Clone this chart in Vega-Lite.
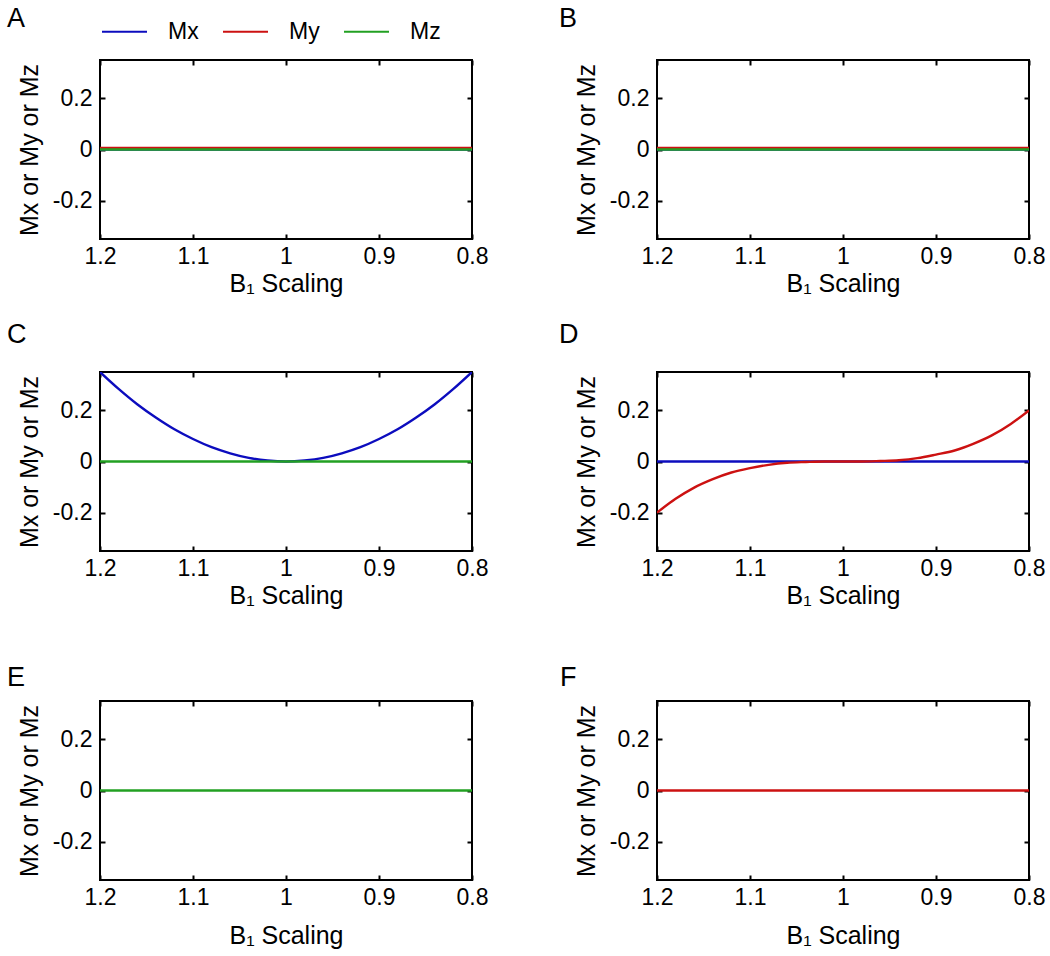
{
  "$schema": "https://vega.github.io/schema/vega-lite/v6.json",
  "autosize": {"type": "pad"},
  "padding": {"left": 6, "top": 4, "right": 5, "bottom": 5},
  "background": "white",
  "datasets": {
    "A": [
      {"b1": 1.2, "m": 0, "series": "Mx"}, {"b1": 0.8, "m": 0, "series": "Mx"},
      {"b1": 1.2, "m": 0.006, "series": "My"}, {"b1": 0.8, "m": 0.006, "series": "My"},
      {"b1": 1.2, "m": 0, "series": "Mz"}, {"b1": 0.8, "m": 0, "series": "Mz"}
    ],
    "B": [
      {"b1": 1.2, "m": 0, "series": "Mx"}, {"b1": 0.8, "m": 0, "series": "Mx"},
      {"b1": 1.2, "m": 0.006, "series": "My"}, {"b1": 0.8, "m": 0.006, "series": "My"},
      {"b1": 1.2, "m": 0, "series": "Mz"}, {"b1": 0.8, "m": 0, "series": "Mz"}
    ],
    "C": [
      {"b1": 1.2, "m": 0.35, "series": "Mx"}, {"b1": 1.18, "m": 0.284, "series": "Mx"},
      {"b1": 1.16, "m": 0.224, "series": "Mx"}, {"b1": 1.14, "m": 0.172, "series": "Mx"},
      {"b1": 1.12, "m": 0.126, "series": "Mx"}, {"b1": 1.1, "m": 0.088, "series": "Mx"},
      {"b1": 1.08, "m": 0.056, "series": "Mx"}, {"b1": 1.06, "m": 0.032, "series": "Mx"},
      {"b1": 1.04, "m": 0.014, "series": "Mx"}, {"b1": 1.02, "m": 0.004, "series": "Mx"},
      {"b1": 1.0, "m": 0.0, "series": "Mx"}, {"b1": 0.98, "m": 0.004, "series": "Mx"},
      {"b1": 0.96, "m": 0.014, "series": "Mx"}, {"b1": 0.94, "m": 0.032, "series": "Mx"},
      {"b1": 0.92, "m": 0.056, "series": "Mx"}, {"b1": 0.9, "m": 0.088, "series": "Mx"},
      {"b1": 0.88, "m": 0.126, "series": "Mx"}, {"b1": 0.86, "m": 0.172, "series": "Mx"},
      {"b1": 0.84, "m": 0.224, "series": "Mx"}, {"b1": 0.82, "m": 0.284, "series": "Mx"},
      {"b1": 0.8, "m": 0.35, "series": "Mx"},
      {"b1": 1.2, "m": 0, "series": "Mz"}, {"b1": 0.8, "m": 0, "series": "Mz"}
    ],
    "D": [
      {"b1": 1.2, "m": 0, "series": "Mx"}, {"b1": 0.8, "m": 0, "series": "Mx"},
      {"b1": 1.2, "m": -0.2, "series": "My"}, {"b1": 1.18, "m": -0.146, "series": "My"},
      {"b1": 1.16, "m": -0.102, "series": "My"}, {"b1": 1.14, "m": -0.069, "series": "My"},
      {"b1": 1.12, "m": -0.043, "series": "My"}, {"b1": 1.1, "m": -0.026, "series": "My"},
      {"b1": 1.08, "m": -0.013, "series": "My"}, {"b1": 1.06, "m": -0.005, "series": "My"},
      {"b1": 1.04, "m": -0.002, "series": "My"}, {"b1": 1.02, "m": 0.0, "series": "My"},
      {"b1": 1.0, "m": 0.0, "series": "My"}, {"b1": 0.98, "m": 0.0, "series": "My"},
      {"b1": 0.96, "m": 0.002, "series": "My"}, {"b1": 0.94, "m": 0.005, "series": "My"},
      {"b1": 0.92, "m": 0.013, "series": "My"}, {"b1": 0.9, "m": 0.027, "series": "My"},
      {"b1": 0.88, "m": 0.043, "series": "My"}, {"b1": 0.86, "m": 0.069, "series": "My"},
      {"b1": 0.84, "m": 0.102, "series": "My"}, {"b1": 0.82, "m": 0.146, "series": "My"},
      {"b1": 0.8, "m": 0.2, "series": "My"}
    ],
    "E": [
      {"b1": 1.2, "m": 0, "series": "Mz"}, {"b1": 0.8, "m": 0, "series": "Mz"}
    ],
    "F": [
      {"b1": 1.2, "m": 0, "series": "My"}, {"b1": 0.8, "m": 0, "series": "My"}
    ]
  },
  "bounds": "flush",
  "columns": 2,
  "spacing": {"row": 0, "column": 185},
  "concat": [
    {
      "width": 372, "height": 179,
      "title": {"text": "A", "anchor": "start", "frame": "group", "dx": -93, "dy": -5, "offset": 0, "baseline": "alphabetic"},
      "data": {"name": "A"},
      "layer": [
        {"mark": {"type": "line", "strokeWidth": 2.4, "clip": true, "interpolate": "monotone"},
         "encoding": {
           "x": {"field": "b1", "type": "quantitative", "scale": {"domain": [0.8, 1.2], "reverse": true, "nice": false, "zero": false}, "axis": {"orient": "bottom", "values": [1.2, 1.1, 1, 0.9, 0.8], "format": "~g", "title": "B₁ Scaling"}},
           "y": {"field": "m", "type": "quantitative", "scale": {"domain": [-0.35, 0.35], "nice": false, "zero": false}, "axis": {"orient": "left", "values": [-0.2, 0, 0.2], "labelExpr": "datum.value < 0 ? '-' + format(-datum.value, '~g') : format(datum.value, '~g')", "title": "Mx or My or Mz"}},
           "color": {"field": "series", "type": "nominal", "scale": {"domain": ["Mx", "My", "Mz"], "range": ["#0c0cbe", "#cc1111", "#22a022"]}, "legend": {"title": null, "orient": "none", "legendX": 1, "legendY": -52, "direction": "horizontal"}}
         }},
        {"mark": {"type": "line", "opacity": 0},
         "encoding": {
           "x": {"field": "b1", "type": "quantitative", "axis": {"orient": "top", "values": [1.2, 1.1, 1, 0.9, 0.8], "labels": false, "title": null}},
           "y": {"field": "m", "type": "quantitative", "axis": {"orient": "right", "values": [-0.2, 0, 0.2], "labels": false, "title": null}}
         }}
      ],
      "resolve": {"axis": {"x": "independent", "y": "independent"}}
    },
    {
      "width": 372, "height": 179,
      "title": {"text": "B", "anchor": "start", "frame": "group", "dx": -98, "dy": -5, "offset": 0, "baseline": "alphabetic"},
      "data": {"name": "B"},
      "layer": [
        {"mark": {"type": "line", "strokeWidth": 2.4, "clip": true, "interpolate": "monotone"},
         "encoding": {
           "x": {"field": "b1", "type": "quantitative", "scale": {"domain": [0.8, 1.2], "reverse": true, "nice": false, "zero": false}, "axis": {"orient": "bottom", "values": [1.2, 1.1, 1, 0.9, 0.8], "format": "~g", "title": "B₁ Scaling"}},
           "y": {"field": "m", "type": "quantitative", "scale": {"domain": [-0.35, 0.35], "nice": false, "zero": false}, "axis": {"orient": "left", "values": [-0.2, 0, 0.2], "labelExpr": "datum.value < 0 ? '-' + format(-datum.value, '~g') : format(datum.value, '~g')", "title": "Mx or My or Mz"}},
           "color": {"field": "series", "type": "nominal", "scale": {"domain": ["Mx", "My", "Mz"], "range": ["#0c0cbe", "#cc1111", "#22a022"]}, "legend": {"title": null, "orient": "none", "legendX": 1, "legendY": -52, "direction": "horizontal"}}
         }},
        {"mark": {"type": "line", "opacity": 0},
         "encoding": {
           "x": {"field": "b1", "type": "quantitative", "axis": {"orient": "top", "values": [1.2, 1.1, 1, 0.9, 0.8], "labels": false, "title": null}},
           "y": {"field": "m", "type": "quantitative", "axis": {"orient": "right", "values": [-0.2, 0, 0.2], "labels": false, "title": null}}
         }}
      ],
      "resolve": {"axis": {"x": "independent", "y": "independent"}}
    },
    {"width": 372, "height": 133, "data": {"values": []}, "mark": "point", "view": {"stroke": null}},
    {"width": 372, "height": 133, "data": {"values": []}, "mark": "point", "view": {"stroke": null}},
    {
      "width": 372, "height": 179,
      "title": {"text": "C", "anchor": "start", "frame": "group", "dx": -93, "dy": -1, "offset": 0, "baseline": "alphabetic"},
      "data": {"name": "C"},
      "layer": [
        {"mark": {"type": "line", "strokeWidth": 2.4, "clip": true, "interpolate": "monotone"},
         "encoding": {
           "x": {"field": "b1", "type": "quantitative", "scale": {"domain": [0.8, 1.2], "reverse": true, "nice": false, "zero": false}, "axis": {"orient": "bottom", "values": [1.2, 1.1, 1, 0.9, 0.8], "format": "~g", "title": "B₁ Scaling"}},
           "y": {"field": "m", "type": "quantitative", "scale": {"domain": [-0.35, 0.35], "nice": false, "zero": false}, "axis": {"orient": "left", "values": [-0.2, 0, 0.2], "labelExpr": "datum.value < 0 ? '-' + format(-datum.value, '~g') : format(datum.value, '~g')", "title": "Mx or My or Mz"}},
           "color": {"field": "series", "type": "nominal", "scale": {"domain": ["Mx", "My", "Mz"], "range": ["#0c0cbe", "#cc1111", "#22a022"]}, "legend": {"title": null, "orient": "none", "legendX": 1, "legendY": -52, "direction": "horizontal"}}
         }},
        {"mark": {"type": "line", "opacity": 0},
         "encoding": {
           "x": {"field": "b1", "type": "quantitative", "axis": {"orient": "top", "values": [1.2, 1.1, 1, 0.9, 0.8], "labels": false, "title": null}},
           "y": {"field": "m", "type": "quantitative", "axis": {"orient": "right", "values": [-0.2, 0, 0.2], "labels": false, "title": null}}
         }}
      ],
      "resolve": {"axis": {"x": "independent", "y": "independent"}}
    },
    {
      "width": 372, "height": 179,
      "title": {"text": "D", "anchor": "start", "frame": "group", "dx": -98, "dy": -1, "offset": 0, "baseline": "alphabetic"},
      "data": {"name": "D"},
      "layer": [
        {"mark": {"type": "line", "strokeWidth": 2.4, "clip": true, "interpolate": "monotone"},
         "encoding": {
           "x": {"field": "b1", "type": "quantitative", "scale": {"domain": [0.8, 1.2], "reverse": true, "nice": false, "zero": false}, "axis": {"orient": "bottom", "values": [1.2, 1.1, 1, 0.9, 0.8], "format": "~g", "title": "B₁ Scaling"}},
           "y": {"field": "m", "type": "quantitative", "scale": {"domain": [-0.35, 0.35], "nice": false, "zero": false}, "axis": {"orient": "left", "values": [-0.2, 0, 0.2], "labelExpr": "datum.value < 0 ? '-' + format(-datum.value, '~g') : format(datum.value, '~g')", "title": "Mx or My or Mz"}},
           "color": {"field": "series", "type": "nominal", "scale": {"domain": ["Mx", "My", "Mz"], "range": ["#0c0cbe", "#cc1111", "#22a022"]}, "legend": {"title": null, "orient": "none", "legendX": 1, "legendY": -52, "direction": "horizontal"}}
         }},
        {"mark": {"type": "line", "opacity": 0},
         "encoding": {
           "x": {"field": "b1", "type": "quantitative", "axis": {"orient": "top", "values": [1.2, 1.1, 1, 0.9, 0.8], "labels": false, "title": null}},
           "y": {"field": "m", "type": "quantitative", "axis": {"orient": "right", "values": [-0.2, 0, 0.2], "labels": false, "title": null}}
         }}
      ],
      "resolve": {"axis": {"x": "independent", "y": "independent"}}
    },
    {"width": 372, "height": 150, "data": {"values": []}, "mark": "point", "view": {"stroke": null}},
    {"width": 372, "height": 150, "data": {"values": []}, "mark": "point", "view": {"stroke": null}},
    {
      "width": 372, "height": 179,
      "title": {"text": "E", "anchor": "start", "frame": "group", "dx": -93, "dy": 13, "offset": 0, "baseline": "alphabetic"},
      "data": {"name": "E"},
      "layer": [
        {"mark": {"type": "line", "strokeWidth": 2.4, "clip": true, "interpolate": "monotone"},
         "encoding": {
           "x": {"field": "b1", "type": "quantitative", "scale": {"domain": [0.8, 1.2], "reverse": true, "nice": false, "zero": false}, "axis": {"orient": "bottom", "values": [1.2, 1.1, 1, 0.9, 0.8], "format": "~g", "title": "B₁ Scaling", "titlePadding": 14}},
           "y": {"field": "m", "type": "quantitative", "scale": {"domain": [-0.35, 0.35], "nice": false, "zero": false}, "axis": {"orient": "left", "values": [-0.2, 0, 0.2], "labelExpr": "datum.value < 0 ? '-' + format(-datum.value, '~g') : format(datum.value, '~g')", "title": "Mx or My or Mz"}},
           "color": {"field": "series", "type": "nominal", "scale": {"domain": ["Mx", "My", "Mz"], "range": ["#0c0cbe", "#cc1111", "#22a022"]}, "legend": {"title": null, "orient": "none", "legendX": 1, "legendY": -52, "direction": "horizontal"}}
         }},
        {"mark": {"type": "line", "opacity": 0},
         "encoding": {
           "x": {"field": "b1", "type": "quantitative", "axis": {"orient": "top", "values": [1.2, 1.1, 1, 0.9, 0.8], "labels": false, "title": null}},
           "y": {"field": "m", "type": "quantitative", "axis": {"orient": "right", "values": [-0.2, 0, 0.2], "labels": false, "title": null}}
         }}
      ],
      "resolve": {"axis": {"x": "independent", "y": "independent"}}
    },
    {
      "width": 372, "height": 179,
      "title": {"text": "F", "anchor": "start", "frame": "group", "dx": -97, "dy": 13, "offset": 0, "baseline": "alphabetic"},
      "data": {"name": "F"},
      "layer": [
        {"mark": {"type": "line", "strokeWidth": 2.4, "clip": true, "interpolate": "monotone"},
         "encoding": {
           "x": {"field": "b1", "type": "quantitative", "scale": {"domain": [0.8, 1.2], "reverse": true, "nice": false, "zero": false}, "axis": {"orient": "bottom", "values": [1.2, 1.1, 1, 0.9, 0.8], "format": "~g", "title": "B₁ Scaling", "titlePadding": 14}},
           "y": {"field": "m", "type": "quantitative", "scale": {"domain": [-0.35, 0.35], "nice": false, "zero": false}, "axis": {"orient": "left", "values": [-0.2, 0, 0.2], "labelExpr": "datum.value < 0 ? '-' + format(-datum.value, '~g') : format(datum.value, '~g')", "title": "Mx or My or Mz"}},
           "color": {"field": "series", "type": "nominal", "scale": {"domain": ["Mx", "My", "Mz"], "range": ["#0c0cbe", "#cc1111", "#22a022"]}, "legend": {"title": null, "orient": "none", "legendX": 1, "legendY": -52, "direction": "horizontal"}}
         }},
        {"mark": {"type": "line", "opacity": 0},
         "encoding": {
           "x": {"field": "b1", "type": "quantitative", "axis": {"orient": "top", "values": [1.2, 1.1, 1, 0.9, 0.8], "labels": false, "title": null}},
           "y": {"field": "m", "type": "quantitative", "axis": {"orient": "right", "values": [-0.2, 0, 0.2], "labels": false, "title": null}}
         }}
      ],
      "resolve": {"axis": {"x": "independent", "y": "independent"}}
    }
  ],
  "config": {
    "font": "Liberation Sans",
    "view": {"stroke": "black", "strokeWidth": 2},
    "axis": {"domain": false, "grid": false, "ticks": true, "offset": -5, "tickSize": 5, "tickWidth": 2, "tickColor": "black", "labelFontSize": 23, "labelColor": "black", "labelFlush": false, "labelOverlap": false, "titleFontSize": 25, "titleFontWeight": "normal", "titleColor": "black", "labelPadding": 6, "titlePadding": 3},
    "axisY": {"labelPadding": 8, "titlePadding": 10},
    "title": {"fontSize": 27, "fontWeight": "normal", "color": "black"},
    "legend": {"symbolType": "stroke", "symbolSize": 2025, "symbolStrokeWidth": 2, "labelFontSize": 23, "labelColor": "black", "labelOffset": 20, "columnPadding": 20, "padding": 0}
  }
}
